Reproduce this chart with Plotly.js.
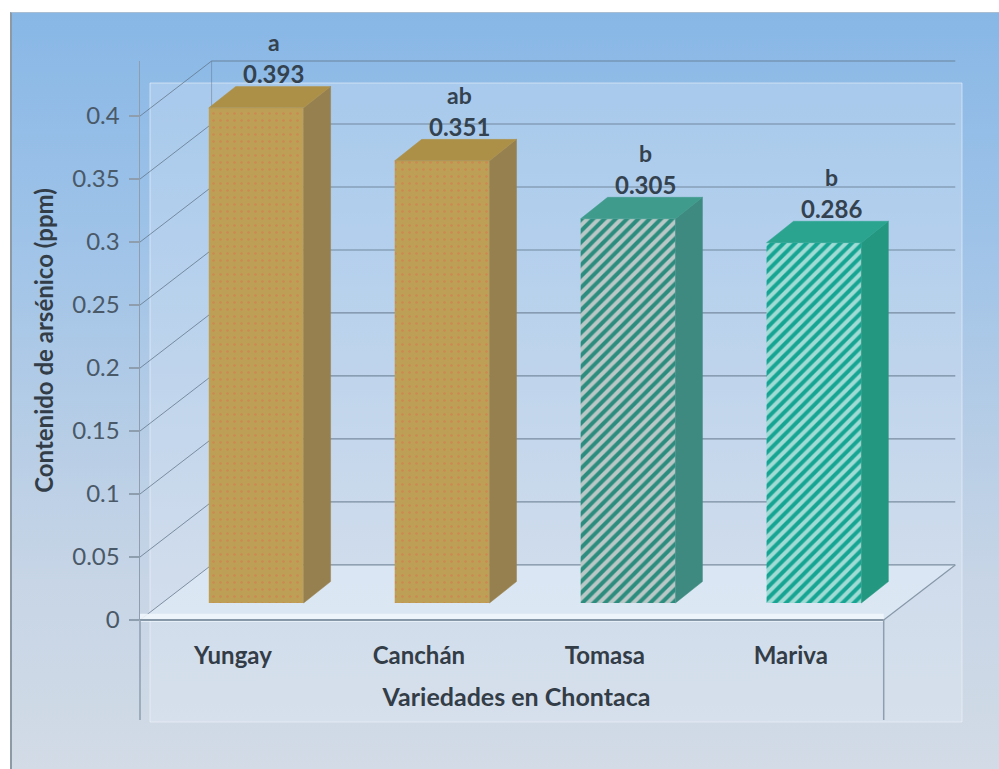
<!DOCTYPE html>
<html>
<head>
<meta charset="utf-8">
<script src="https://cdn.plot.ly/plotly-3.0.1.min.js"></script>
<style>
  html, body { margin: 0; padding: 0; background: #ffffff; }
  #wrap { position: relative; width: 999px; height: 769px; overflow: hidden; background: #ffffff; }
  #bg { position: absolute; left: 10px; top: 12px; width: 989px; height: 757px;
        border-left: 2px solid #8d9aa6; border-top: 1px solid #a9bed2;
        background: linear-gradient(to bottom, #88b7e6 0%, #9fc3e8 30%, #b6cde6 55%, #c7d5e6 75%, #d2dbe6 100%); }
  #chart { position: absolute; left: 0; top: 0; width: 999px; height: 769px; }
</style>
</head>
<body>
<div id="wrap"><div id="bg"></div><div id="chart"></div></div>
<script>
// ---- data ----
const categories = ['Yungay', 'Canchán', 'Tomasa', 'Mariva'];
const values = [0.393, 0.351, 0.305, 0.286];
const letters = ['a', 'ab', 'b', 'b'];
const yTickVals = [0, 0.05, 0.1, 0.15, 0.2, 0.25, 0.3, 0.35, 0.4];
const yTickText = ['0', '0.05', '0.1', '0.15', '0.2', '0.25', '0.3', '0.35', '0.4'];

// ---- styles ----
const frontColors = ['#bd9f55', '#bd9f55', '#b9c8c6', '#a0dcd5'];
const patShapes = ['.', '.', '/', '/'];
const patFg = ['#cc8a52', '#cc8a52', '#2c8c7e', '#17a593'];
const patSize = [7, 7, 8, 8];
const patSol = [0.12, 0.12, 0.5, 0.5];
const sideColors = ['#97804f', '#97804f', '#3e8a80', '#23977f'];
const topColors = ['#ad9048', '#ad9048', '#3f9b8b', '#2aa48f'];
const textColor = '#34424f';
const FONT = 'Lato, "Open Sans", sans-serif';

// geometry (in axis units)
const XMIN = -0.5, XMAX = 3.55, YMAX = 0.4437;
const BASE = 0.0135;           // bars sit slightly back on the floor
const BAR_OFF = -0.13, BAR_W = 0.51;
const DX = 0.145, DY = 0.017;  // bar depth
const DXW = 0.385, DYW = 0.0437; // wall depth
const M = {l: 140, r: 106, t: 61, b: 149};
const PW = 999 - M.l - M.r, PH = 769 - M.t - M.b;
const dX = x => (x - XMIN) / (XMAX - XMIN);
const dY = y => y / YMAX;
const pX = px => (px - M.l) / PW;
const pY = py => (769 - M.b - py) / PH;

const traces = [];
values.forEach((v, i) => {
  traces.push({
    type: 'bar',
    name: categories[i],
    x: [i],
    y: [v],
    base: [BASE],
    width: BAR_W,
    offset: BAR_OFF,
    marker: {
      color: frontColors[i],
      line: {width: 0},
      pattern: {shape: patShapes[i], fgcolor: patFg[i], bgcolor: frontColors[i], size: patSize[i],
                solidity: patSol[i], fgopacity: 1, fillmode: 'replace'}
    },
    hoverinfo: 'skip',
    showlegend: false
  });
});

values.forEach((v, i) => {
  const L = i + BAR_OFF, R = L + BAR_W, b = BASE, t = BASE + v;
  traces.push({
    type: 'scatter', mode: 'lines', fill: 'toself',
    x: [R, R, R + DX, R + DX, R], y: [b, t, t + DY, b + DY, b],
    fillcolor: sideColors[i], line: {width: 0.5, color: sideColors[i]},
    hoverinfo: 'skip', showlegend: false
  });
  traces.push({
    type: 'scatter', mode: 'lines', fill: 'toself',
    x: [L, L + DX, R + DX, R, L], y: [t, t + DY, t + DY, t, t],
    fillcolor: topColors[i], line: {width: 0.5, color: topColors[i]},
    hoverinfo: 'skip', showlegend: false
  });
});

const gridCol = 'rgba(95,115,135,0.75)';
const shapes = [];
// lighter plot-area panel
shapes.push({type: 'rect', xref: 'paper', yref: 'paper', layer: 'below',
  x0: pX(150), x1: pX(962), y0: pY(722), y1: pY(83),
  fillcolor: 'rgba(232,240,250,0.28)', line: {width: 1, color: 'rgba(240,245,252,0.6)'}});
// floor
shapes.push({type: 'path', xref: 'paper', yref: 'paper', layer: 'below',
  path: `M ${dX(-0.5)},${dY(0)} L ${dX(3.5)},${dY(0)} L ${dX(3.5 + DXW)},${dY(DYW)} L ${dX(-0.5 + DXW)},${dY(DYW)} Z`,
  fillcolor: 'rgba(222,233,245,0.75)', line: {width: 0}});
// back wall gridlines and left wall diagonals
yTickVals.forEach(t => {
  shapes.push({type: 'line', xref: 'paper', yref: 'paper', layer: 'below',
    x0: dX(-0.5 + DXW), x1: dX(3.5 + DXW), y0: dY(t + DYW), y1: dY(t + DYW),
    line: {color: gridCol, width: 1.2}});
  shapes.push({type: 'line', xref: 'paper', yref: 'paper', layer: 'below',
    x0: dX(-0.5), x1: dX(-0.5 + DXW), y0: dY(t), y1: dY(t + DYW),
    line: {color: gridCol, width: 1}});
});
// back wall left edge
shapes.push({type: 'line', xref: 'paper', yref: 'paper', layer: 'below',
  x0: dX(-0.5 + DXW), x1: dX(-0.5 + DXW), y0: dY(DYW), y1: dY(0.4 + DYW),
  line: {color: 'rgba(95,115,135,0.45)', width: 1}});
// floor front edge and right diagonal
shapes.push({type: 'line', xref: 'paper', yref: 'paper',
  x0: dX(-0.5), x1: dX(3.5), y0: dY(0) + 0.004, y1: dY(0) + 0.004,
  line: {color: 'rgba(240,246,252,0.9)', width: 8}});
shapes.push({type: 'line', xref: 'paper', yref: 'paper',
  x0: dX(-0.5), x1: dX(3.5), y0: dY(0), y1: dY(0),
  line: {color: '#8798a8', width: 2}});
shapes.push({type: 'line', xref: 'paper', yref: 'paper',
  x0: dX(3.5), x1: dX(3.5 + DXW), y0: dY(0), y1: dY(DYW),
  line: {color: '#8798a8', width: 1.2}});
// vertical edges below the floor
shapes.push({type: 'line', xref: 'paper', yref: 'paper',
  x0: dX(-0.5), x1: dX(-0.5), y0: dY(0), y1: pY(720), line: {color: '#8e9eae', width: 1.5}});
shapes.push({type: 'line', xref: 'paper', yref: 'paper',
  x0: dX(3.5), x1: dX(3.5), y0: dY(0), y1: pY(720), line: {color: '#8e9eae', width: 1.5}});

const annotations = [];
values.forEach((v, i) => {
  annotations.push({xref: 'x', yref: 'paper', x: i + 0.22, y: dY(BASE + v + 0.027), text: v.toFixed(3),
    showarrow: false, yanchor: 'middle', font: {family: FONT, size: 24, color: textColor, weight: 'bold'}});
  annotations.push({xref: 'x', yref: 'paper', x: i + 0.22, y: dY(BASE + v + 0.052), text: letters[i],
    showarrow: false, yanchor: 'middle', font: {family: FONT, size: 23, color: textColor, weight: 'bold'}});
});

const layout = {
  width: 999, height: 769, autosize: false,
  margin: M,
  paper_bgcolor: 'rgba(0,0,0,0)',
  plot_bgcolor: 'rgba(0,0,0,0)',
  showlegend: false,
  barmode: 'overlay',
  xaxis: {
    range: [XMIN, XMAX], fixedrange: true,
    tickvals: [0, 1, 2, 3], ticktext: categories,
    ticks: '', showgrid: false, zeroline: false, showline: false,
    ticklabelstandoff: 19,
    tickfont: {family: FONT, size: 24, color: '#333d47', weight: 'bold'},
    title: {text: 'Variedades en Chontaca', standoff: 20,
            font: {family: FONT, size: 25, color: '#333d47', weight: 'bold'}}
  },
  yaxis: {
    range: [0, YMAX], fixedrange: true,
    tickvals: yTickVals, ticktext: yTickText,
    ticks: 'outside', ticklen: 10, tickcolor: '#8e9eae', tickwidth: 1.5,
    ticklabelstandoff: 4,
    showgrid: false, zeroline: false, showline: true, linecolor: '#8e9eae', linewidth: 1.5,
    tickfont: {family: FONT, size: 24, color: '#4a5968'},
    title: {text: 'Contenido de arsénico (ppm)', standoff: 12,
            font: {family: FONT, size: 24, color: '#333d47', weight: 'bold'}}
  },
  shapes: shapes,
  annotations: annotations
};

Plotly.newPlot('chart', traces, layout, {displayModeBar: false, staticPlot: true});
</script>
</body>
</html>
